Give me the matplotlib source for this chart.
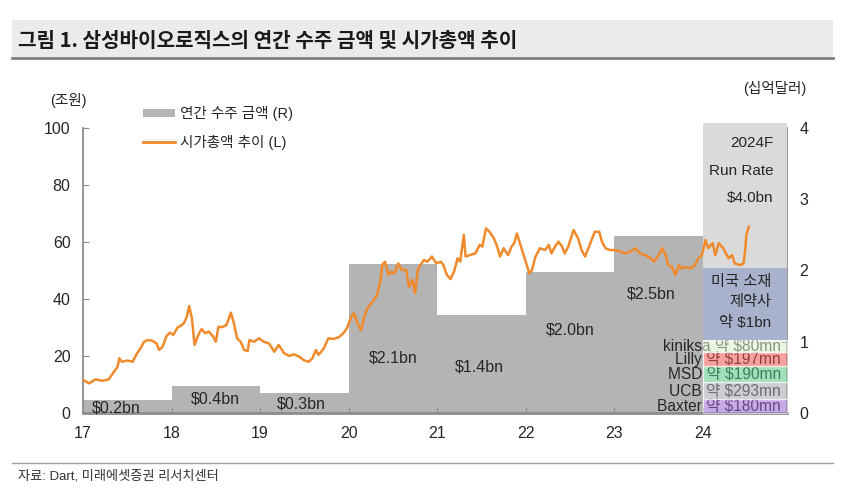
import numpy as np
import matplotlib
matplotlib.use('Agg')
import matplotlib.pyplot as plt
from matplotlib.patches import Patch, Rectangle
from matplotlib.lines import Line2D

plt.rcParams['font.family'] = ['Liberation Sans', 'Noto Sans CJK KR']
plt.rcParams['axes.unicode_minus'] = False

# annual order amounts ($bn, right axis)
order_years = [17, 18, 19, 20, 21, 22, 23]
order_values = [0.18, 0.38, 0.28, 2.09, 1.38, 1.98, 2.48]
order_labels = ['$0.2bn', '$0.4bn', '$0.3bn', '$2.1bn', '$1.4bn', '$2.0bn', '$2.5bn']

# 2024F breakdown (drawn heights, $bn), bottom to top
seg_names = ['Baxter', 'UCB', 'MSD', 'Lilly', 'kiniksa', 'US', 'rest']
seg_heights = [0.20, 0.23, 0.23, 0.19, 0.17, 1.01, 2.04]
seg_colors = ['#9B64D1', '#A4A4B1', '#52CA82', '#F25252', '#DCEECE', '#A8B2CC', '#DADADA']
seg_texts = ['Baxter 약 $180mn', 'UCB 약 $293mn', 'MSD 약 $190mn',
             'Lilly 약 $197mn', 'kiniksa 약 $80mn']

# market cap (trillion KRW, left axis)
cap_t = [17.00, 17.07, 17.14, 17.22, 17.29, 17.35, 17.39, 17.41, 17.44, 17.50,
         17.56, 17.61, 17.65, 17.69, 17.73, 17.78, 17.83, 17.86, 17.90, 17.94,
         17.98, 18.02, 18.07, 18.10, 18.14, 18.17, 18.20, 18.23, 18.26, 18.31,
         18.34, 18.38, 18.42, 18.47, 18.50, 18.53, 18.57, 18.62, 18.67, 18.70,
         18.74, 18.78, 18.82, 18.86, 18.88, 18.93, 18.99, 19.04, 19.10, 19.16,
         19.21, 19.27, 19.33, 19.38, 19.44, 19.50, 19.55, 19.59, 19.63, 19.66,
         19.72, 19.77, 19.83, 19.89, 19.94, 19.98, 20.03, 20.06, 20.10, 20.14,
         20.17, 20.21, 20.27, 20.32, 20.36, 20.38, 20.41, 20.45, 20.48, 20.52,
         20.56, 20.60, 20.65, 20.68, 20.72, 20.75, 20.78, 20.81, 20.85, 20.89,
         20.94, 20.99, 21.04, 21.07, 21.11, 21.15, 21.19, 21.23, 21.26, 21.30,
         21.32, 21.37, 21.43, 21.48, 21.51, 21.55, 21.59, 21.64, 21.67, 21.71,
         21.75, 21.80, 21.84, 21.87, 21.90, 21.94, 21.97, 22.01, 22.04, 22.07,
         22.11, 22.16, 22.22, 22.26, 22.29, 22.33, 22.37, 22.41, 22.44, 22.48,
         22.54, 22.59, 22.63, 22.67, 22.73, 22.78, 22.83, 22.86, 22.90, 22.95,
         23.01, 23.07, 23.12, 23.18, 23.24, 23.29, 23.35, 23.41, 23.45, 23.50,
         23.54, 23.58, 23.61, 23.65, 23.69, 23.73, 23.76, 23.81, 23.86, 23.91,
         23.95, 23.99, 24.03, 24.06, 24.11, 24.14, 24.18, 24.23, 24.29, 24.33,
         24.36, 24.42, 24.46, 24.48, 24.49, 24.52]
cap_v = [11.6, 10.4, 11.8, 11.3, 11.8, 14.5, 16.2, 19.2, 18.0, 18.4,
         18.0, 20.9, 22.7, 25.0, 25.6, 25.4, 24.4, 22.1, 23.3, 26.8,
         28.2, 27.4, 30.1, 30.5, 31.5, 33.6, 37.5, 33.2, 23.9, 28.0,
         29.4, 28.0, 28.6, 26.8, 25.0, 30.3, 30.1, 30.9, 35.2, 32.0,
         26.2, 25.0, 22.1, 21.8, 25.6, 25.0, 26.2, 25.0, 24.4, 21.5,
         23.9, 21.0, 20.0, 20.6, 19.8, 18.4, 18.0, 19.2, 22.1, 20.4,
         22.7, 26.2, 26.0, 26.6, 28.0, 29.7, 33.8, 35.0, 31.5, 29.0,
         33.2, 36.7, 39.0, 41.4, 46.7, 51.9, 53.1, 48.4, 49.6, 49.0,
         52.5, 50.2, 50.2, 44.3, 46.7, 42.0, 50.2, 51.9, 53.7, 53.1,
         54.9, 52.5, 53.1, 51.9, 48.4, 47.0, 49.6, 54.3, 53.1, 62.5,
         54.9, 55.4, 56.0, 59.0, 58.4, 64.8, 63.6, 61.3, 59.0, 54.9,
         57.8, 55.4, 58.4, 59.6, 63.0, 59.0, 56.0, 51.9, 49.0, 50.2,
         54.9, 57.8, 57.2, 59.0, 56.0, 58.4, 60.1, 58.4, 56.0, 58.4,
         64.2, 61.3, 57.2, 54.9, 59.6, 63.6, 63.6, 60.1, 57.8, 57.2,
         57.2, 56.6, 56.0, 56.6, 57.8, 56.0, 55.4, 54.3, 53.1, 55.4,
         57.8, 55.4, 51.9, 51.3, 48.4, 51.9, 50.7, 51.3, 50.7, 51.9,
         54.3, 55.4, 60.7, 57.8, 59.6, 55.4, 59.6, 57.8, 54.3, 55.4,
         52.5, 51.9, 52.5, 57.8, 62.4, 65.4]

x_ticks = [17, 18, 19, 20, 21, 22, 23, 24]

BAR_GRAY = '#B4B4B4'
ORANGE = '#F08A2C'
SPINE = '#8C8C8C'
TXT = '#262626'

fig = plt.figure(figsize=(8.5, 4.99), dpi=100)

# title band
fig.patches.append(Rectangle((12 / 850, 1 - 57 / 499), 821 / 850, 37 / 499,
                             transform=fig.transFigure, facecolor='#EBEBEB',
                             edgecolor='none', zorder=0))
fig.lines.append(Line2D([12 / 850, 833 / 850], [1 - 58 / 499] * 2,
                        transform=fig.transFigure, color='#7F7F7F', lw=2))
fig.text(18 / 850, 1 - 40 / 499, '그림 1. 삼성바이오로직스의 연간 수주 금액 및 시가총액 추이',
         fontsize=14.5, fontweight='bold', family='Noto Sans CJK KR',
         va='center', ha='left', color='#1A1A1A')

# footer
fig.lines.append(Line2D([12 / 850, 833 / 850], [1 - 463 / 499] * 2,
                        transform=fig.transFigure, color='#A0A0A0', lw=1))
fig.text(18 / 850, 1 - 476 / 499, '자료: Dart, 미래에셋증권 리서치센터',
         fontsize=9.5, va='center', ha='left', color='#333333')

rect = [83 / 850, 1 - 413 / 499, (787 - 83) / 850, (413 - 128) / 499]
axR = fig.add_axes(rect)
axL = axR.twinx()

# bars on right axis
axR.bar(order_years, order_values, width=1.0, align='edge', color=BAR_GRAY,
        edgecolor='none', zorder=1)
bottoms = np.concatenate([[0], np.cumsum(seg_heights)[:-1]])
for i, (h, b, c) in enumerate(zip(seg_heights, bottoms, seg_colors)):
    small = i < len(seg_texts)
    # small company bands are semi-transparent, drawn over their labels
    axR.bar(24, h, bottom=b, width=0.95, align='edge', color=c,
            alpha=0.55 if small else 1.0, edgecolor='white',
            linewidth=1.0 if small else 0, zorder=3, clip_on=False)

label_pos = [(17.37, 0.07), (18.50, 0.20), (19.47, 0.13), (20.50, 0.77),
             (21.48, 0.65), (22.50, 1.16), (23.42, 1.67)]
for (x, y), s in zip(label_pos, order_labels):
    axR.text(x, y, s, ha='center', va='center', fontsize=11.5, color=TXT, zorder=4)

for i, s in enumerate(seg_texts):
    yc = bottoms[i] + seg_heights[i] / 2
    axR.text(24.88, yc, s, ha='right', va='center', fontsize=11.2,
             color=TXT, zorder=2)

for y, s in zip([1.84, 1.56, 1.26], ['미국 소재', '제약사', '약 $1bn']):
    axR.text(24.77, y, s, ha='right', va='center', fontsize=11, color=TXT, zorder=4)
for y, s in zip([3.79, 3.40, 3.02], ['2024F', 'Run Rate', '$4.0bn']):
    axR.text(24.80, y, s, ha='right', va='center', fontsize=11, color=TXT, zorder=4)

axR.set_xlim(17, 24.95)
axR.set_ylim(0, 4)
axR.set_yticks([0, 1, 2, 3, 4])
axR.yaxis.tick_right()
axR.set_xticks(x_ticks)
axR.set_xticklabels([str(t) for t in x_ticks])

# market cap line on left axis
axL.plot(cap_t, cap_v, color=ORANGE, lw=1.8, zorder=5, solid_joinstyle='round')
axL.set_ylim(0, 100)
axL.set_yticks(range(0, 101, 20))
axL.yaxis.tick_left()

for ax in (axR, axL):
    ax.spines['top'].set_visible(False)
    for sp in ax.spines.values():
        sp.set_color(SPINE)
        sp.set_linewidth(1.3)
axR.spines['left'].set_visible(False)
axL.spines['right'].set_visible(False)
axL.spines['bottom'].set_visible(False)
axR.spines['bottom'].set_linewidth(2)

axR.tick_params(axis='x', direction='in', length=4, color=SPINE, pad=9,
                labelsize=11.5, labelcolor=TXT)
axR.tick_params(axis='y', direction='in', length=4, color=SPINE, pad=9,
                labelsize=11.5, labelcolor=TXT)
axL.tick_params(axis='y', direction='in', length=4, color=SPINE, pad=9,
                labelsize=11.5, labelcolor=TXT)

fig.text(68 / 850, 1 - 100 / 499, '(조원)', ha='center', va='center',
         fontsize=10.5, color=TXT)
fig.text(775 / 850, 1 - 88 / 499, '(십억달러)', ha='center', va='center',
         fontsize=10.5, color=TXT)

handles = [Patch(facecolor=BAR_GRAY, edgecolor='none'),
           Line2D([0], [0], color=ORANGE, lw=2)]
axL.legend(handles, ['연간 수주 금액 (R)', '시가총액 추이 (L)'],
           loc='upper left', bbox_to_anchor=(143 / 850, 1 - 106 / 499),
           bbox_transform=fig.transFigure, frameon=False, fontsize=10.5,
           handlelength=2.2, handleheight=0.5, handletextpad=0.35,
           labelspacing=0.95, borderpad=0, borderaxespad=0,
           labelcolor=TXT)

fig.savefig('out.png', dpi=100)
